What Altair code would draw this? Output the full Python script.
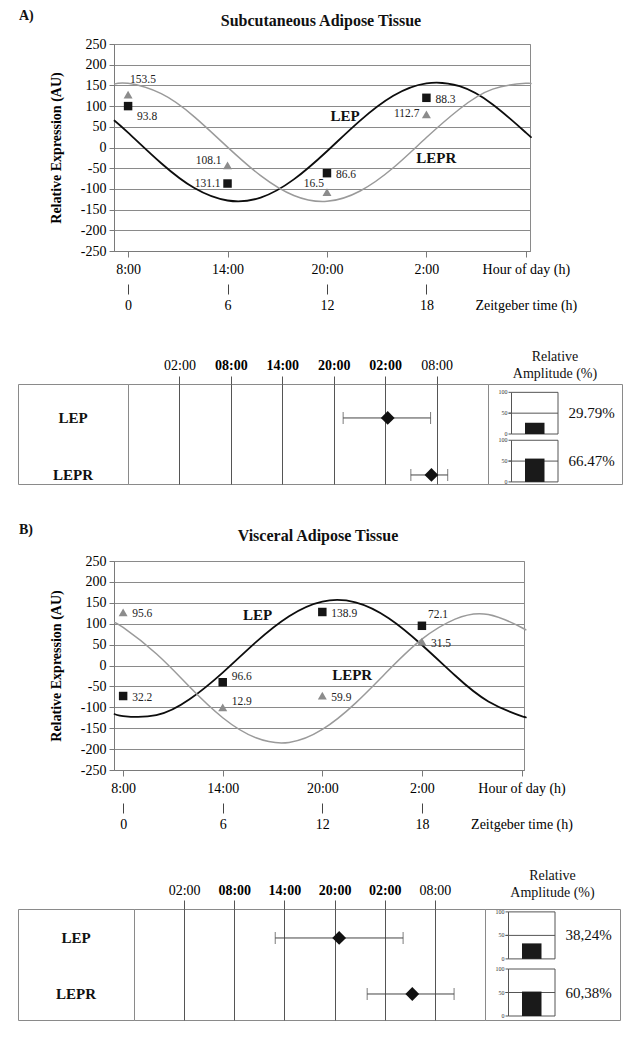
import altair as alt
import pandas as pd

FONT = "Liberation Serif"
genes = ["LEP", "LEPR"]

# ---------------- Panel A : Subcutaneous adipose tissue ----------------
zt_curve_A = [-0.85, 0, 2, 4, 6, 8, 10, 12, 14, 16, 18, 20, 22, 24, 24.25]
lep_curve_A = [66, 36, -38, -98, -128, -121, -77, -9, 65, 125, 155, 148, 104, 36, 27]
lepr_curve_A = [153, 155, 130, 74, 1, -68, -116, -130, -105, -49, 24, 93, 141, 155, 153]
zt_points = [0, 6, 12, 18]
lep_pts_A = [100, -87, -62, 120]
lep_lbl_A = ["93.8", "131.1", "86.6", "88.3"]
lepr_pts_A = [128, -43, -108, 80]
lepr_lbl_A = ["153.5", "108.1", "16.5", "112.7"]
lep_place_A = ["rd", "l", "r", "r"]
lepr_place_A = ["u", "lu", "lU", "l"]
name_zt_A = [13.1, 18.6]
name_val_A = [76, -25]
acro_A = [18.3, 23.4]
acro_lo_A = [13.1, 21.0]
acro_hi_A = [23.3, 25.3]
amp_bar_A = [27, 56]
amp_txt_A = ["29.79%", "66.47%"]

# ---------------- Panel B : Visceral adipose tissue ----------------
zt_curve_B = [-0.55, 0, 2, 4, 6, 8, 10, 12, 14, 16, 18, 20, 22, 24, 24.15]
lep_curve_B = [-115, -121, -119, -81, -17, 56, 118, 153, 151, 113, 49, -24, -86, -121, -122]
lepr_curve_B = [103, 91, 28, -51, -125, -173, -184, -153, -90, -11, 63, 111, 122, 91, 87]
lep_pts_B = [-73, -40, 128, 95]
lep_lbl_B = ["32.2", "96.6", "138.9", "72.1"]
lepr_pts_B = [127, -100, -72, 57]
lepr_lbl_B = ["95.6", "12.9", "59.9", "31.5"]
lep_place_B = ["r", "ru", "r", "rU"]
lepr_place_B = ["r", "ru", "r", "r"]
name_zt_B = [8.1, 13.8]
name_val_B = [121, -23]
acro_B = [12.55, 21.3]
acro_lo_B = [4.9, 15.9]
acro_hi_B = [20.2, 26.3]
amp_bar_B = [33, 52]
amp_txt_B = ["38,24%", "60,38%"]

amp_ticks = [0, 50, 100]
y_ticks = list(range(-250, 251, 50))
hour_ticks = [0, 6, 12, 18, 24]
phase_ticks = [-6, 0, 6, 12, 18, 24]

# label placement: align, dx, dy
PLACE = {
    "r": ("left", 9, 2),
    "rd": ("left", 9, 11),
    "ru": ("left", 9, -5),
    "rU": ("left", 6, -11),
    "u": ("left", 2, -15),
    "l": ("right", -7, 0),
    "lu": ("right", -6, -4),
    "lU": ("right", -3, -8),
}

GRID = "#8a8a8a"
AXC = "#7a7a7a"
DARK = "#555555"
NOSTROKE = alt.ViewBackground(stroke="transparent")


def expression_chart(zt_c, lep_c, lepr_c, lep_p, lep_l, lep_pl, lepr_p, lepr_l, lepr_pl,
                     name_zt, name_val, xdom, W, H, letter, title, letter_y, title_y, lead):
    xs = alt.Scale(domain=xdom, nice=False, zero=False)
    ys = alt.Scale(domain=[-250, 250], nice=False, zero=False)
    n = len(zt_c)
    curves = pd.DataFrame({"zt": zt_c + zt_c, "value": lep_c + lepr_c,
                           "gene": ["LEP"] * n + ["LEPR"] * n})
    hour_axis = alt.Axis(orient="bottom", values=hour_ticks,
                         labelExpr="datum.value == 24 ? 'Hour of day (h)' : ((datum.value + 8) % 24) + ':00'",
                         title=None, grid=False, tickSize=6, tickColor=AXC, domainColor=AXC,
                         labelFontSize=14, labelPadding=5, labelFlush=False, labelOverlap=False,
                         labelColor="black")
    zt_axis = alt.Axis(orient="bottom", values=hour_ticks, offset=33,
                       labelExpr="datum.value == 24 ? 'Zeitgeber time (h)' : datum.label",
                       title=None, grid=False, domain=False, tickSize=10, tickColor="#444",
                       tickOpacity={"condition": {"test": "datum.value == 24", "value": 0}, "value": 1},
                       labelFontSize=14, labelPadding=4, labelFlush=False, labelOverlap=False,
                       labelColor="black")
    y_axis = alt.Axis(values=y_ticks, labelExpr="'' + datum.value",
                      title="Relative Expression (AU)", titleFontSize=14,
                      titleFontWeight="bold", titlePadding=17, titleColor="black",
                      grid=True, gridColor=GRID, gridWidth=1.2, gridOpacity=1,
                      tickSize=5, tickColor=AXC, domainColor=AXC,
                      labelFontSize=14, labelPadding=3, labelFlush=False, labelOverlap=False,
                      labelColor="black")
    Y = lambda f: alt.Y(f, scale=ys, axis=y_axis)
    lines = alt.Chart(curves).mark_line(interpolate="natural").encode(
        x=alt.X("zt:Q", scale=xs, axis=hour_axis),
        y=Y("value:Q"),
        color=alt.Color("gene:N", scale=alt.Scale(domain=genes, range=["#0d0d0d", "#9a9a9a"]), legend=None),
        strokeWidth=alt.StrokeWidth("gene:N", scale=alt.Scale(domain=genes, range=[1.8, 1.5]), legend=None),
    )
    lep_df = pd.DataFrame({"zt": zt_points, "value": lep_p, "label": lep_l, "place": lep_pl})
    lepr_df = pd.DataFrame({"zt": zt_points, "value": lepr_p, "label": lepr_l, "place": lepr_pl})
    sq = alt.Chart(lep_df).mark_point(shape="square", filled=True, size=72, color="#151515", opacity=1).encode(
        x=alt.X("zt:Q", scale=xs, axis=None), y=Y("value:Q"))
    tri = alt.Chart(lepr_df).mark_point(shape="triangle-up", filled=True, size=80, color="#8c8c8c", opacity=1).encode(
        x=alt.X("zt:Q", scale=xs, axis=zt_axis), y=Y("value:Q"))
    pts = pd.concat([lep_df, lepr_df], ignore_index=True)
    texts = []
    for key, (align, dx, dy) in PLACE.items():
        if key not in list(pts["place"]):
            continue
        texts.append(
            alt.Chart(pts).transform_filter(alt.datum.place == key)
            .mark_text(align=align, baseline="middle", dx=dx, dy=dy, fontSize=11.5, color="#222")
            .encode(x=alt.X("zt:Q", scale=xs, axis=None), y=Y("value:Q"), text="label:N"))
    names = alt.Chart(pd.DataFrame({"zt": name_zt, "value": name_val, "gene": genes})).mark_text(
        fontSize=15, fontWeight="bold", color="#111").encode(
        x=alt.X("zt:Q", scale=xs, axis=None), y=Y("value:Q"), text="gene:N")
    ann = alt.Chart(pd.DataFrame({"t": [letter]})).mark_text(
        align="left", baseline="middle", fontSize=14, fontWeight="bold", color="#111").encode(
        x=alt.value(-lead + 1), y=alt.value(letter_y), text="t:N")
    ttl = alt.Chart(pd.DataFrame({"t": [title]})).mark_text(
        align="center", baseline="middle", fontSize=16, fontWeight="bold", color="#111").encode(
        x=alt.value(W / 2 - 1), y=alt.value(title_y), text="t:N")
    main = alt.layer(lines, sq, tri, *texts, names, ann, ttl).resolve_axis(x="independent").properties(
        width=W, height=H)
    spacer = alt.Chart(pd.DataFrame({"a": [0]})).mark_point(opacity=0).properties(
        width=lead, height=H, view=NOSTROKE)
    return alt.hconcat(spacer, main, spacing=0, bounds="flush")


def phase_panel(acro, lo, hi, amp_bar, amp_txt, wl, wp, wa, h, row_pad, row_align, tick_size, lab_pad,
                unit_px, bases, amp_title_off):
    gdf = pd.DataFrame({"gene": genes, "acro": acro, "lo": lo, "hi": hi, "amp": amp_bar, "pct": amp_txt})
    ys = alt.Scale(type="point", domain=genes, padding=row_pad, align=row_align)
    labels = alt.Chart(gdf).mark_text(fontSize=15, fontWeight="bold", color="#111").encode(
        y=alt.Y("gene:N", scale=ys, axis=None), text="gene:N").properties(width=wl, height=h)

    xs = alt.Scale(domain=[-12, 30], nice=False, zero=False)
    clock = "(((datum.value + 8) % 24 + 24) % 24)"
    p_axis = alt.Axis(orient="top", values=phase_ticks,
                      labelExpr=f"({clock} < 10 ? '0' : '') + {clock} + ':00'",
                      labelFontWeight={"condition": {"test": "datum.value >= 0 && datum.value <= 18",
                                                     "value": "bold"}, "value": "normal"},
                      grid=True, gridColor=DARK, gridWidth=1, gridOpacity=1,
                      tickSize=tick_size, tickColor=DARK, domain=False, labelFontSize=14,
                      labelPadding=lab_pad, labelFlush=False, labelOverlap=False, title=None,
                      labelColor="black")
    Yg = alt.Y("gene:N", scale=ys, axis=None)
    err = alt.Chart(gdf).mark_rule(color="#444", strokeWidth=1).encode(
        x=alt.X("lo:Q", scale=xs, axis=p_axis), x2="hi:Q", y=Yg)
    cap_lo = alt.Chart(gdf).mark_tick(color="#444", thickness=1, size=12).encode(
        x=alt.X("lo:Q", scale=xs, axis=p_axis), y=Yg)
    cap_hi = alt.Chart(gdf).mark_tick(color="#444", thickness=1, size=12).encode(
        x=alt.X("hi:Q", scale=xs, axis=p_axis), y=Yg)
    dia = alt.Chart(gdf).mark_point(shape="diamond", filled=True, size=190, color="#111", opacity=1).encode(
        x=alt.X("acro:Q", scale=xs, axis=p_axis), y=Yg)
    phase = alt.layer(err, cap_lo, cap_hi, dia).properties(width=wp, height=h)

    # relative amplitude mini bar charts
    FL, FR, BL, BR, PCT = 23.5, 70, 37, 56.5, 103.5
    y_tot = h / unit_px
    ays = alt.Scale(domain=[0, y_tot], nice=False, zero=False)
    axs = alt.Scale(domain=[0, wa], nice=False, zero=False)
    XD = lambda v: alt.XDatum(v, type="quantitative", scale=axs, axis=None)
    YA = lambda f: alt.Y(f, scale=ays, axis=None)
    base_expr = f"datum.gene == 'LEP' ? {bases[0]} : {bases[1]}"
    adf = alt.Chart(gdf).transform_calculate(base=base_expr).transform_calculate(
        top="datum.base + 100", mid="datum.base + 50", ampTop="datum.base + datum.amp")
    frames = adf.mark_rect(fill="white", stroke=DARK, strokeWidth=1).encode(
        x=XD(FL), x2=alt.X2Datum(FR), y=YA("base:Q"), y2="top:Q")
    grid50 = adf.mark_rule(color=DARK, strokeWidth=1).encode(
        x=XD(FL - 3), x2=alt.X2Datum(FR), y=YA("mid:Q"))
    tdf = pd.DataFrame({"gene": [g for g in genes for _ in amp_ticks],
                        "v": [v for _ in genes for v in amp_ticks]})
    tch = alt.Chart(tdf).transform_calculate(base=base_expr).transform_calculate(
        yv="datum.base + datum.v", lab="'' + datum.v")
    tmarks = tch.mark_rule(color=DARK, strokeWidth=1).encode(
        x=XD(FL - 3), x2=alt.X2Datum(FL), y=YA("yv:Q"))
    tlabels = tch.mark_text(align="right", baseline="middle", fontSize=6, color="#333", dx=-1).encode(
        x=XD(FL - 3), y=YA("yv:Q"), text="lab:N")
    bars = adf.mark_rect(color="#1a1a1a").encode(
        x=XD(BL), x2=alt.X2Datum(BR), y=YA("base:Q"), y2="ampTop:Q")
    pct = adf.mark_text(fontSize=15, align="center", baseline="middle", color="#111").encode(
        x=XD(PCT), y=YA("mid:Q"), text="pct:N")
    amp = alt.layer(frames, grid50, bars, tmarks, tlabels, pct).properties(
        width=wa, height=h,
        title=alt.TitleParams(["Relative", "Amplitude (%)"], fontSize=14, fontWeight="normal",
                              anchor="middle", frame="group", offset=amp_title_off, lineHeight=17,
                              baseline="bottom", color="#111"))
    return alt.hconcat(labels, phase, amp, spacing=0, bounds="flush")


topA = expression_chart(zt_curve_A, lep_curve_A, lepr_curve_A, lep_pts_A, lep_lbl_A, lep_place_A,
                        lepr_pts_A, lepr_lbl_A, lepr_place_A, name_zt_A, name_val_A,
                        [-0.85, 24.25], 416, 207, "A)", "Subcutaneous Adipose Tissue", -28, -23, 96)
phaseA = phase_panel(acro_A, acro_lo_A, acro_hi_A, amp_bar_A, amp_txt_A, 110, 360, 134, 100,
                     0.377, 0.79, 8, 4, 100 / 240, [120, 5], -11)
topB = expression_chart(zt_curve_B, lep_curve_B, lepr_curve_B, lep_pts_B, lep_lbl_B, lep_place_B,
                        lepr_pts_B, lepr_lbl_B, lepr_place_B, name_zt_B, name_val_B,
                        [-0.55, 24.15], 410, 209, "B)", "Visceral Adipose Tissue", -31, -25, 96)
phaseB = phase_panel(acro_B, acro_lo_B, acro_hi_B, amp_bar_B, amp_txt_B, 116, 351, 135, 111,
                     0.491, 0.527, 9, 3, 0.47, [130, 8.5], -5)

chart = alt.vconcat(topA, phaseA, topB, phaseB, spacing=36, bounds="full").properties(
    padding={"left": 9, "top": 0, "right": 0, "bottom": 0}, background="white"
).configure_view(stroke="#8a8a8a", strokeWidth=1).configure_axis(
    labelFont=FONT, titleFont=FONT).configure_text(font=FONT).configure_title(font=FONT)

chart.save("out.html", embed_options={"renderer": "svg", "actions": False})
